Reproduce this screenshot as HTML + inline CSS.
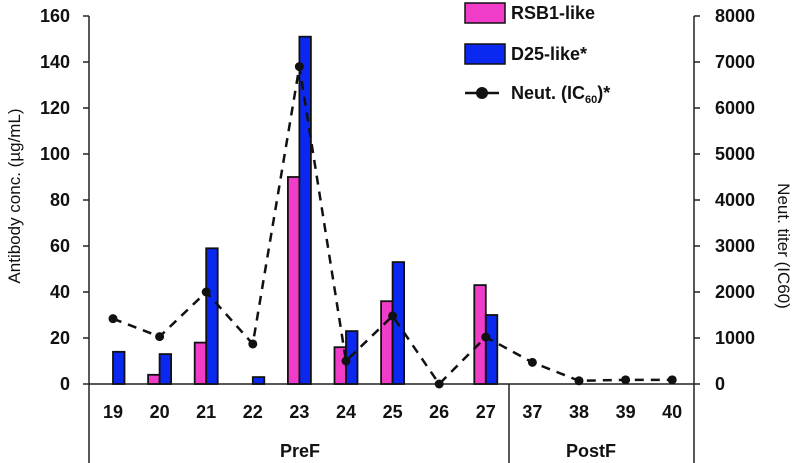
<!DOCTYPE html>
<html><head><meta charset="utf-8"><style>
html,body{margin:0;padding:0;background:#fff}
svg{display:block;font-family:"Liberation Sans","DejaVu Sans",sans-serif;font-weight:bold}
</style></head><body>
<svg id="chart" width="800" height="463" viewBox="0 0 800 463"></svg>
<script>
const categories=["19","20","21","22","23","24","25","26","27","37","38","39","40"];
const rsb1=[0,4,18,0,90,16,36,0,43,null,null,null,null];
const d25=[14,13,59,3,151,23,53,0,30,null,null,null,null];
const neut=[1420,1030,2000,870,6900,500,1480,0,1020,470,70,90,90];
const leftTicks=[0,20,40,60,80,100,120,140,160];
const rightTicks=[0,1000,2000,3000,4000,5000,6000,7000,8000];

const NS="http://www.w3.org/2000/svg";
const svg=document.getElementById('chart');
function mk(t,a,p){const e=document.createElementNS(NS,t);for(const k in a)e.setAttribute(k,a[k]);(p||svg).appendChild(e);return e;}
const x0=89,x1=694,yTop=16,yBot=384;
const yL=v=>yBot-(v/160)*(yBot-yTop);
const yR=v=>yBot-(v/8000)*(yBot-yTop);
const xC=i=>113+i*46.6;
const bw=11.5;

let e;
e=mk('line',{x1:x0,y1:yTop,x2:x0,y2:463,stroke:'#222','stroke-width':1.5});

e=mk('line',{x1:x1,y1:yTop,x2:x1,y2:463,stroke:'#222','stroke-width':1.5});

e=mk('line',{x1:x0,y1:yBot,x2:x1,y2:yBot,stroke:'#222','stroke-width':1.5});

e=mk('line',{x1:509,y1:yBot,x2:509,y2:463,stroke:'#222','stroke-width':1.5});


leftTicks.forEach(v=>{
  mk('line',{x1:x0-6,y1:yL(v),x2:x0,y2:yL(v),stroke:'#222','stroke-width':1.5});
  const t=mk('text',{x:70,y:yL(v)+6,'text-anchor':'end','font-size':18,fill:'#111'});t.textContent=v;
  
  
});
rightTicks.forEach(v=>{
  mk('line',{x1:x1,y1:yR(v),x2:x1+6,y2:yR(v),stroke:'#222','stroke-width':1.5});
  const t=mk('text',{x:715,y:yR(v)+6,'font-size':18,fill:'#111'});t.textContent=v;
  
  
});
categories.forEach((c,i)=>{
  const t=mk('text',{x:xC(i),y:418,'text-anchor':'middle','font-size':18,fill:'#111'});t.textContent=c;
  
  
});
e=mk('text',{x:300,y:457,'text-anchor':'middle','font-size':18,fill:'#111'});e.textContent='PreF';

e=mk('text',{x:591,y:457,'text-anchor':'middle','font-size':18,fill:'#111'});e.textContent='PostF';

e=mk('text',{transform:'translate(20,196) rotate(-90)','text-anchor':'middle','font-size':17,'font-weight':'normal',fill:'#111'});e.textContent='Antibody conc. (µg/mL)';

e=mk('text',{transform:'translate(778,246) rotate(90)','text-anchor':'middle','font-size':17,'font-weight':'normal',fill:'#111'});e.textContent='Neut. titer (IC60)';


categories.forEach((c,i)=>{
  if(rsb1[i]){const b=mk('rect',{x:xC(i)-bw,y:yL(rsb1[i]),width:bw,height:yBot-yL(rsb1[i]),fill:'#f03cc8',stroke:'#111','stroke-width':1.8});
    
    }
  if(d25[i]){const b=mk('rect',{x:xC(i),y:yL(d25[i]),width:bw,height:yBot-yL(d25[i]),fill:'#0a28f0',stroke:'#111','stroke-width':1.8});
    
    }
});
const pts=neut.map((v,i)=>xC(i)+','+yR(v)).join(' ');
e=mk('polyline',{points:pts,fill:'none',stroke:'#111','stroke-width':2.5,'stroke-dasharray':'9,7'});

neut.forEach((v,i)=>{
  const p=mk('circle',{cx:xC(i),cy:yR(v),r:4.5,fill:'#111'});
  
  
});

e=mk('rect',{x:465,y:3,width:40,height:20,fill:'#f03cc8',stroke:'#111','stroke-width':1.5});

e=mk('text',{x:511,y:19,'font-size':18,fill:'#111'});e.textContent='RSB1-like';

e=mk('rect',{x:465,y:44,width:40,height:20,fill:'#0a28f0',stroke:'#111','stroke-width':1.5});

e=mk('text',{x:511,y:60,'font-size':18,fill:'#111'});e.textContent='D25-like*';

e=mk('line',{x1:465,y1:93,x2:499,y2:93,stroke:'#111','stroke-width':2.5});

e=mk('circle',{cx:482,cy:93,r:6,fill:'#111'});

e=mk('text',{x:511,y:99,'font-size':18,fill:'#111'});
e.innerHTML='Neut. (IC<tspan font-size="11" dy="4">60</tspan><tspan dy="-4">)*</tspan>';

</script>
</body></html>
